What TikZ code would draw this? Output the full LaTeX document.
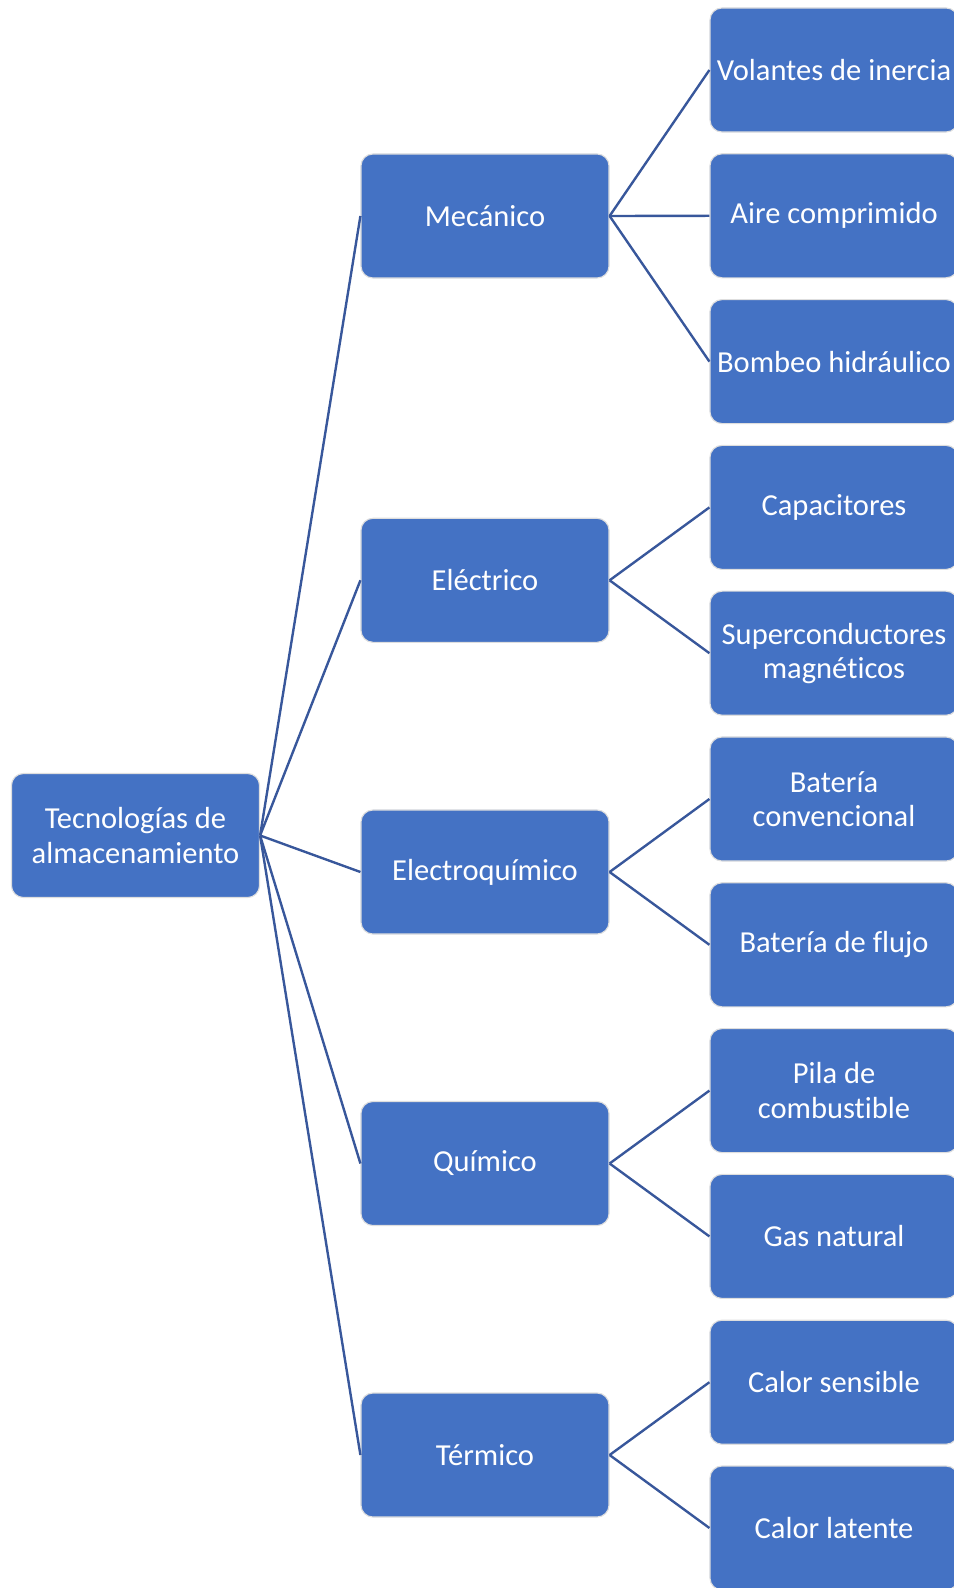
\documentclass[tikz,border=0pt]{standalone}
\usepackage{fontspec}
\setmainfont[Ligatures=NoCommon]{Carlito}
\usepackage{tikz}
\usepackage{xcolor}
\definecolor{techblue}{RGB}{68,114,196}
\definecolor{linkblue}{RGB}{56,87,155}
\definecolor{techedge}{RGB}{222,222,222}
\tikzstyle{link} = [line width=1.7pt, color=linkblue]
\tikzstyle{techbox} = [rectangle, rounded corners=0.3cm, minimum width=6.2cm, minimum height=3.1cm, inner sep=0pt, text centered, align=center, draw=techedge, line width=0.8pt, fill=techblue, text=white, font=\fontsize{21.7}{24.4}\selectfont]

\begin{document}
\begin{tikzpicture}[x=0.025cm, y=-0.025cm]
\useasboundingbox (0,0) rectangle (953,1588);

% Root
\node[techbox] (storage) at (135.5,835.5) {Tecnologías de\\almacenamiento};

% Families
\node[techbox] (mech) at (485,216) {Mecánico};
\node[techbox] (elec) at (485,580.3) {Eléctrico};
\node[techbox] (echem) at (485,872) {Electroquímico};
\node[techbox] (chem) at (485,1163.5) {Químico};
\node[techbox] (therm) at (485,1455) {Térmico};

% Technologies
\node[techbox] (flywheel) at (834,70) {Volantes de inercia};
\node[techbox] (air) at (834,215.8) {Aire comprimido};
\node[techbox] (pumped) at (834,361.6) {Bombeo hidráulico};
\node[techbox] (caps) at (834,507.4) {Capacitores};
\node[techbox] (smes) at (834,653.2) {Superconductores\\magnéticos};
\node[techbox] (battery) at (834,799) {Batería\\convencional};
\node[techbox] (flow) at (834,944.8) {Batería de flujo};
\node[techbox] (fuelcell) at (834,1090.6) {Pila de\\combustible};
\node[techbox] (gas) at (834,1236.4) {Gas natural};
\node[techbox] (sensible) at (834,1382.2) {Calor sensible};
\node[techbox] (latent) at (834,1528) {Calor latente};

% Links
\foreach \f in {mech,elec,echem,chem,therm}
  \draw[link] (storage.east) -- (\f.west);
\foreach \t in {flywheel,air,pumped}
  \draw[link] (mech.east) -- (\t.west);
\foreach \t in {caps,smes}
  \draw[link] (elec.east) -- (\t.west);
\foreach \t in {battery,flow}
  \draw[link] (echem.east) -- (\t.west);
\foreach \t in {fuelcell,gas}
  \draw[link] (chem.east) -- (\t.west);
\foreach \t in {sensible,latent}
  \draw[link] (therm.east) -- (\t.west);
\end{tikzpicture}
\end{document}
